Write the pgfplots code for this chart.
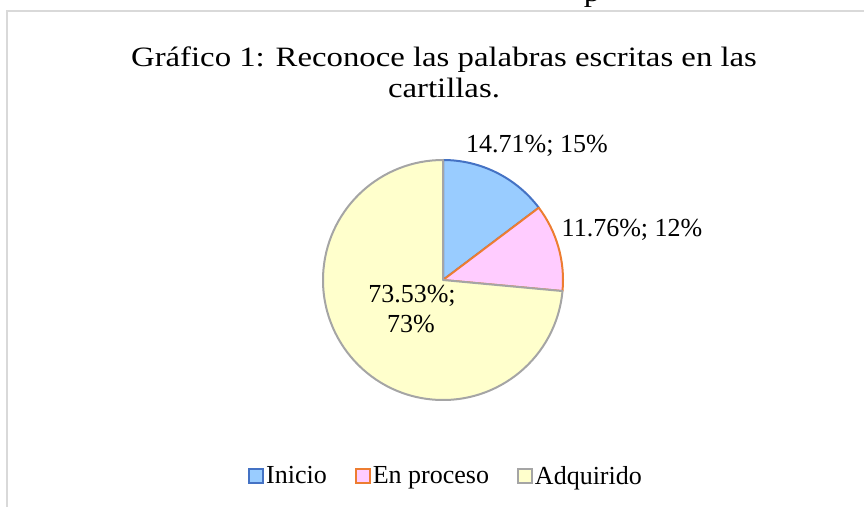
\documentclass[border=0pt]{standalone}
\usepackage{graphicx}
\usepackage{pgfplots}
\pgfplotsset{compat=1.18}
\usepackage{fontspec}
\setmainfont{Liberation Serif}
\definecolor{inifill}{RGB}{153,204,255}
\definecolor{iniedge}{RGB}{68,114,196}
\definecolor{profill}{RGB}{255,204,255}
\definecolor{proedge}{RGB}{237,125,49}
\definecolor{adqfill}{RGB}{255,255,204}
\definecolor{adqedge}{RGB}{165,165,165}
\definecolor{frame}{RGB}{217,217,217}
% data (percent)
\def\vIni{14.71}
\def\vPro{11.76}
\def\vAdq{73.53}
\begin{document}
\begin{tikzpicture}
\begin{axis}[name=ax,
  scale only axis, width=864bp, height=507bp,
  xmin=0, xmax=864, ymin=0, ymax=507,
  hide axis, clip=false,
  legend columns=-1,
  legend style={at={(axis cs:446,31)}, anchor=center, draw=none, fill=none,
    font=\fontsize{26bp}{30bp}\selectfont,
    /tikz/every even column/.append style={column sep=26bp},
    inner sep=0pt},
  legend image code/.code={\draw[#1, line width=2bp] (0bp,-7bp) rectangle (14bp,7bp);},
]
\addlegendimage{fill=inifill, draw=iniedge}
\addlegendentry{Inicio}
\addlegendimage{fill=profill, draw=proedge}
\addlegendentry{En proceso}
\addlegendimage{fill=adqfill, draw=adqedge}
\addlegendentry{Adquirido}
% frame
\draw[frame, line width=1.6bp] (axis cs:7,0) -- (axis cs:7,496) -- (axis cs:864,496);
% pie slices
\pgfmathsetmacro{\aA}{90}
\pgfmathsetmacro{\aB}{90-3.6*\vIni}
\pgfmathsetmacro{\aC}{\aB-3.6*\vPro}
\pgfmathsetmacro{\aD}{\aC-3.6*\vAdq}
\filldraw[fill=inifill, draw=iniedge, line width=2bp, line join=round]
  (axis cs:443,227) -- ++(\aA:120bp) arc[start angle=\aA, end angle=\aB, radius=120bp] -- cycle;
\filldraw[fill=profill, draw=proedge, line width=2bp, line join=round]
  (axis cs:443,227) -- ++(\aB:120bp) arc[start angle=\aB, end angle=\aC, radius=120bp] -- cycle;
\filldraw[fill=adqfill, draw=adqedge, line width=2bp, line join=round]
  (axis cs:443,227) -- ++(\aC:120bp) arc[start angle=\aC, end angle=\aD, radius=120bp] -- cycle;
% data labels
\node[anchor=base, font=\fontsize{26bp}{30bp}\selectfont, inner sep=0pt] at (axis cs:537,354) {14.71\%; 15\%};
\node[anchor=base, font=\fontsize{26bp}{30bp}\selectfont, inner sep=0pt] at (axis cs:632,270) {11.76\%; 12\%};
\node[anchor=base, font=\fontsize{26bp}{30bp}\selectfont, inner sep=0pt] at (axis cs:412,204) {73.53\%;};
\node[anchor=base, font=\fontsize{26bp}{30bp}\selectfont, inner sep=0pt] at (axis cs:411,174) {73\%};
% title
\node[anchor=base, font=\fontsize{28bp}{32bp}\selectfont, inner sep=0pt] at (axis cs:444,440) {\scalebox{1.17}[1]{Gráfico 1: Reconoce las palabras escritas en las}};
\node[anchor=base, font=\fontsize{28bp}{32bp}\selectfont, inner sep=0pt] at (axis cs:444,409) {\scalebox{1.17}[1]{cartillas.}};
% cut-off text from the page above
\node[anchor=base, font=\fontsize{28bp}{32bp}\selectfont, inner sep=0pt] at (axis cs:592,505) {\scalebox{1.17}[1]{p}};
\end{axis}
\pgfresetboundingbox
\path[use as bounding box] (ax.south west) rectangle (ax.north east);
\end{tikzpicture}
\end{document}
